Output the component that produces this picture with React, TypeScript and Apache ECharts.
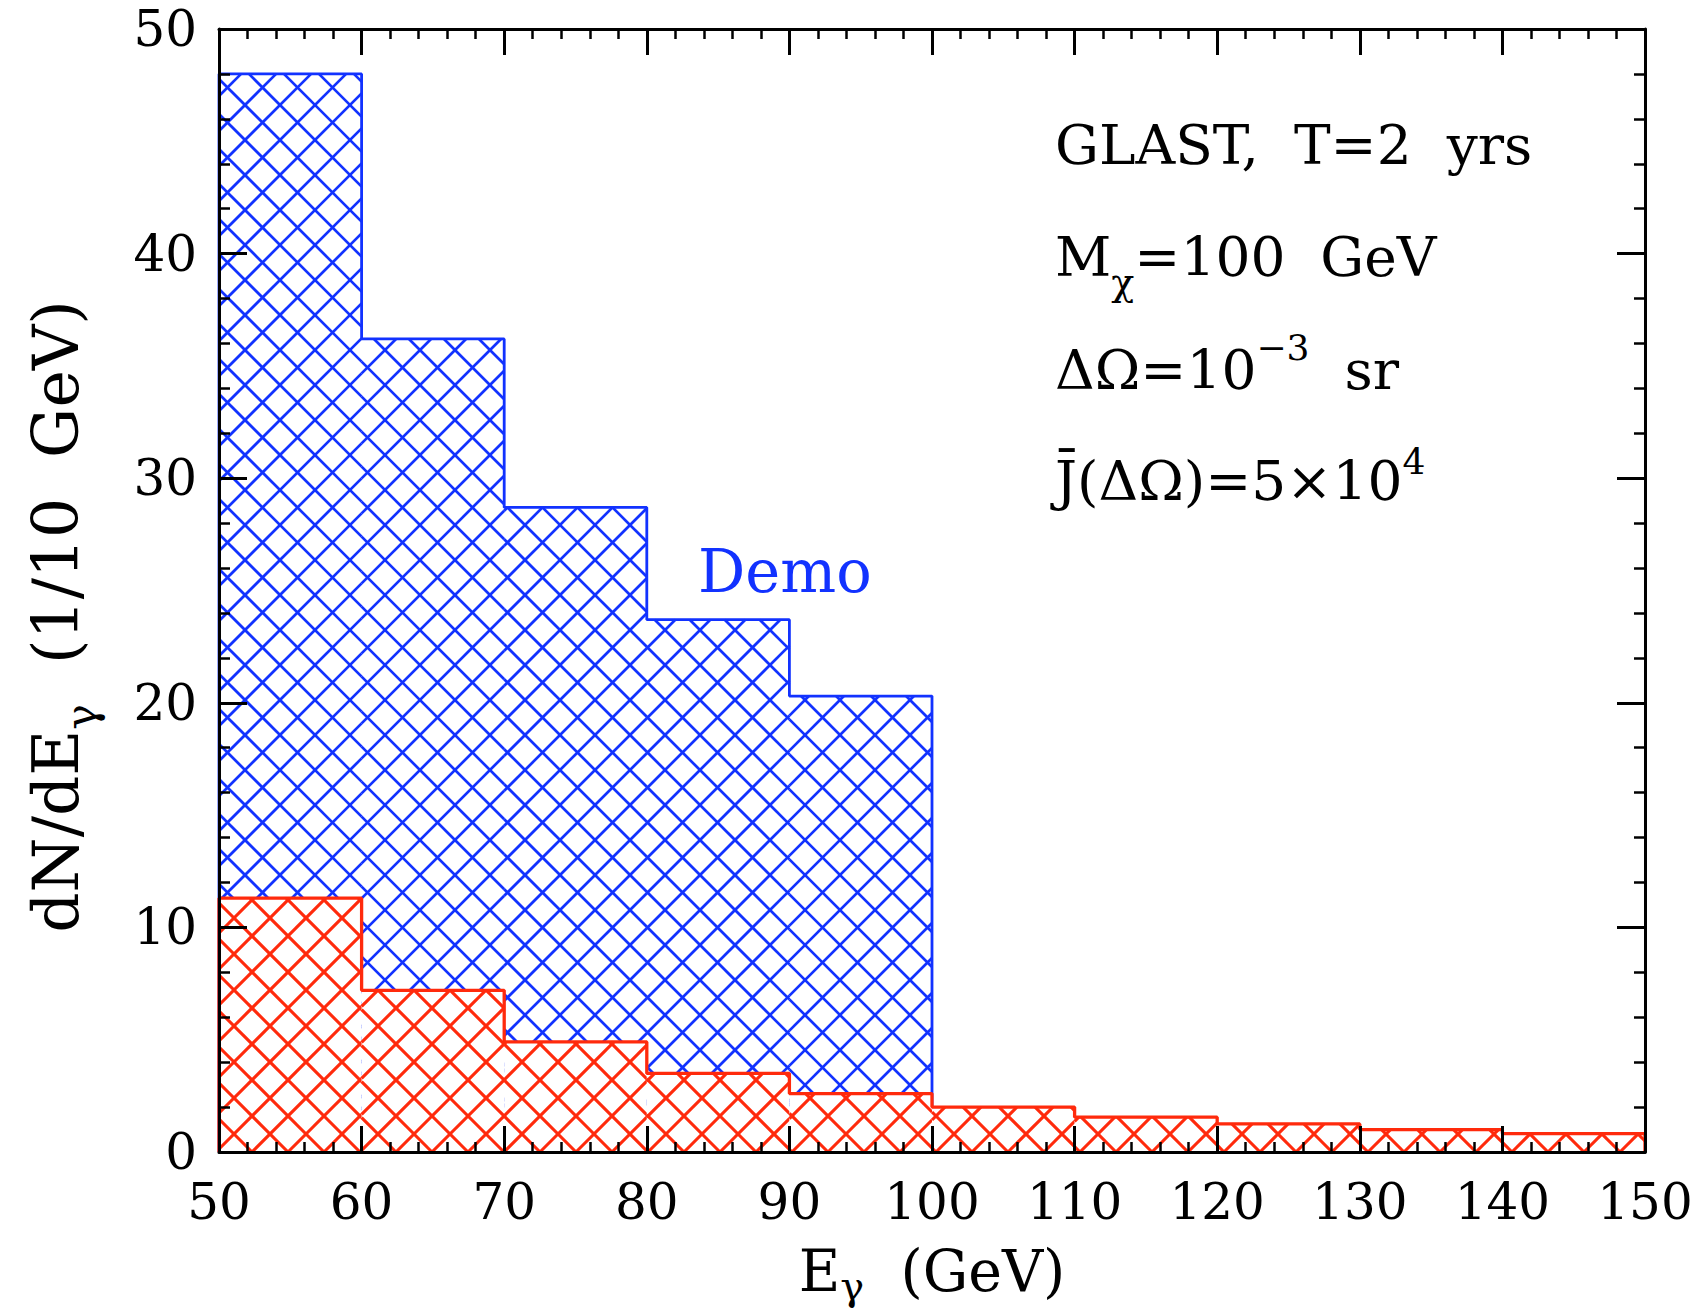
import React, { useEffect, useRef } from "react";
import * as echarts from "echarts";

// ---- data ----
const binEdges = [50, 60, 70, 80, 90, 100, 110, 120, 130, 140, 150];
const demoCounts = [48.0, 36.2, 28.7, 23.7, 20.3]; // total (signal + bkg), 50-100 GeV
const bkgCounts = [11.3, 7.2, 4.9, 3.5, 2.6, 2.0, 1.55, 1.25, 1.0, 0.82];
const xRange = [50, 150];
const yRange = [0, 50];
const annotationLines = [
  "GLAST,  T=2  yrs",
  "M{sub|χ}{n|=100  GeV}",
  "ΔΩ=10{sup|−3}{n|  sr}",
  "J̄(ΔΩ)=5×10{sup4|4}",
];
const demoLabel = "Demo";

const BLUE = "#1232ff";
const RED = "#ff2a0c";
const FONT = "DejaVu Serif";

function binsOf(counts: number[]) {
  return counts.map((v, i) => [binEdges[i], binEdges[i + 1], v]);
}

function stepOutline(counts: number[]) {
  const pts: number[][] = [[binEdges[0], 0]];
  counts.forEach((v, i) => {
    pts.push([binEdges[i], v]);
    pts.push([binEdges[i + 1], v]);
  });
  pts.push([binEdges[counts.length], 0]);
  return pts;
}

function hatchRenderer(color: string, spacing: number, lw: number, fillWhite: boolean) {
  return (_params: any, api: any) => {
    const x0 = api.value(0);
    const x1 = api.value(1);
    const v = api.value(2);
    const pA = api.coord([x0, 0]);
    const pB = api.coord([x1, v]);
    const L = Math.min(pA[0], pB[0]);
    const R = Math.max(pA[0], pB[0]);
    const T = Math.min(pA[1], pB[1]);
    const B = Math.max(pA[1], pB[1]);
    const children: any[] = [];
    if (fillWhite) {
      children.push({
        type: "rect",
        shape: { x: L, y: T, width: R - L, height: B - T },
        style: { fill: "#ffffff" },
      });
    }
    const style = { stroke: color, lineWidth: lw, fill: null };
    // family x - y = c
    for (let k = Math.ceil((L - B) / spacing); k * spacing <= R - T; k++) {
      const c = k * spacing;
      const xs = Math.max(L, T + c);
      const xe = Math.min(R, B + c);
      if (xe > xs) children.push({ type: "line", shape: { x1: xs, y1: xs - c, x2: xe, y2: xe - c }, style });
    }
    // family x + y = c
    for (let k = Math.ceil((L + T) / spacing); k * spacing <= R + B; k++) {
      const c = k * spacing;
      const xs = Math.max(L, c - B);
      const xe = Math.min(R, c - T);
      if (xe > xs) children.push({ type: "line", shape: { x1: xs, y1: c - xs, x2: xe, y2: c - xe }, style });
    }
    return { type: "group", children };
  };
}

const axisCommon = (majorLen: number, minorLen: number) => ({
  type: "value",
  axisLine: { show: true, onZero: false, lineStyle: { color: "#000", width: 3 } },
  axisTick: { show: true, inside: true, length: majorLen, lineStyle: { color: "#000", width: 3 } },
  minorTick: { show: true, splitNumber: 5, length: minorLen, lineStyle: { color: "#000", width: 2.5 } },
  splitLine: { show: false },
  minorSplitLine: { show: false },
  nameMoveOverlap: false,
  z: 10,
});

const tickLabel = { fontFamily: FONT, fontSize: 50, color: "#000" };

// annotation rich styles (zrender style naming)
const annoRich = {
  n: { fontFamily: FONT, fontSize: 55, fill: "#000", lineHeight: 60, padding: [30, 0, 0, 0], verticalAlign: "top" },
  sub: { fontFamily: FONT, fontSize: 38, fill: "#000", lineHeight: 38, padding: [64, 0, 0, 0], verticalAlign: "top" },
  sup: { fontFamily: FONT, fontSize: 36, fill: "#000", lineHeight: 36, padding: [17, 0, 0, 0], verticalAlign: "top" },
  sup4: { fontFamily: FONT, fontSize: 36, fill: "#000", lineHeight: 36, padding: [20, 0, 0, 0], verticalAlign: "top" },
};
const annoCapCenters = [147, 259, 372, 483];

function buildOption() {
  const annoGraphics = annotationLines.map((t, i) => ({
    type: "text",
    x: 1055,
    y: annoCapCenters[i] - 60,
    z: 20,
    style: {
      text: (() => {
        const idx = t.indexOf("{");
        return idx < 0 ? `{n|${t}}` : `{n|${t.slice(0, idx)}}${t.slice(idx)}`;
      })(),
      rich: annoRich,
      align: "left",
      verticalAlign: "top",
    },
  }));

  return {
    animation: false,
    backgroundColor: "#ffffff",
    grid: { left: 219, right: 52, top: 29, bottom: 160, containLabel: false, outerBoundsMode: "none" },
    xAxis: [
      {
        ...axisCommon(26, 10),
        position: "bottom",
        min: xRange[0],
        max: xRange[1],
        interval: 10,
        axisLabel: { ...tickLabel, margin: 49, lineHeight: 1 },
        name: "{m|E}{s|γ}{m|  (GeV)}",
        nameLocation: "middle",
        nameGap: 90,
        nameTextStyle: {
          rich: {
            m: { fontFamily: FONT, fontSize: 57, color: "#000", lineHeight: 60, verticalAlign: "top" },
            s: { fontFamily: FONT, fontSize: 40, color: "#000", lineHeight: 40, padding: [24, 0, 0, 0], verticalAlign: "top" },
          },
        },
      },
      {
        ...axisCommon(26, 10),
        position: "top",
        min: xRange[0],
        max: xRange[1],
        interval: 10,
        axisLabel: { show: false },
      },
    ],
    yAxis: [
      {
        ...axisCommon(28, 11),
        position: "left",
        min: yRange[0],
        max: yRange[1],
        interval: 10,
        axisLabel: { ...tickLabel, margin: 22 },
        name: "{m|dN/dE}{s|γ}{e|  (1/10  GeV)}",
        nameLocation: "middle",
        nameRotate: 90,
        nameGap: 134,
        nameTextStyle: {
          rich: {
            m: { fontFamily: FONT, fontSize: 63, color: "#000", lineHeight: 60, verticalAlign: "top" },
            s: { fontFamily: FONT, fontSize: 43, color: "#000", lineHeight: 42, padding: [34, 0, 0, 0], verticalAlign: "top" },
            e: { fontFamily: FONT, fontSize: 63, color: "#000", lineHeight: 60, padding: [0, 52, 0, 0], verticalAlign: "top" },
          },
        },
      },
      {
        ...axisCommon(28, 11),
        position: "right",
        min: yRange[0],
        max: yRange[1],
        interval: 10,
        axisLabel: { show: false },
      },
    ],
    series: [
      {
        type: "custom",
        name: "Demo hatch",
        renderItem: hatchRenderer(BLUE, 35, 2.7, false),
        data: binsOf(demoCounts),
        encode: { x: [0, 1], y: 2 },
        z: 2,
        silent: true,
      },
      {
        type: "line",
        name: "Demo",
        data: stepOutline(demoCounts),
        showSymbol: false,
        symbol: "none",
        lineStyle: { color: BLUE, width: 2.8 },
        z: 3,
        silent: true,
      },
      {
        type: "custom",
        name: "Background hatch",
        renderItem: hatchRenderer(RED, 36, 3.1, true),
        data: binsOf(bkgCounts),
        encode: { x: [0, 1], y: 2 },
        z: 4,
        silent: true,
      },
      {
        type: "line",
        name: "Background",
        data: stepOutline(bkgCounts),
        showSymbol: false,
        symbol: "none",
        lineStyle: { color: RED, width: 3.3 },
        z: 5,
        silent: true,
      },
    ],
    graphic: [
      ...annoGraphics,
      {
        type: "text",
        x: 698,
        y: 571,
        z: 20,
        style: {
          text: demoLabel,
          fontFamily: FONT,
          fontSize: 59,
          fill: BLUE,
          align: "left",
          verticalAlign: "middle",
        },
      },
    ],
  };
}

export default function App() {
  const ref = useRef<HTMLDivElement>(null);
  useEffect(() => {
    if (!ref.current) return;
    const chart = echarts.init(ref.current, null, { renderer: "svg" });
    chart.setOption(buildOption() as any);
    return () => chart.dispose();
  }, []);
  return (
    <div
      ref={ref}
      style={{ position: "fixed", left: 0, top: 0, width: 1697, height: 1312, background: "#fff" }}
    />
  );
}
